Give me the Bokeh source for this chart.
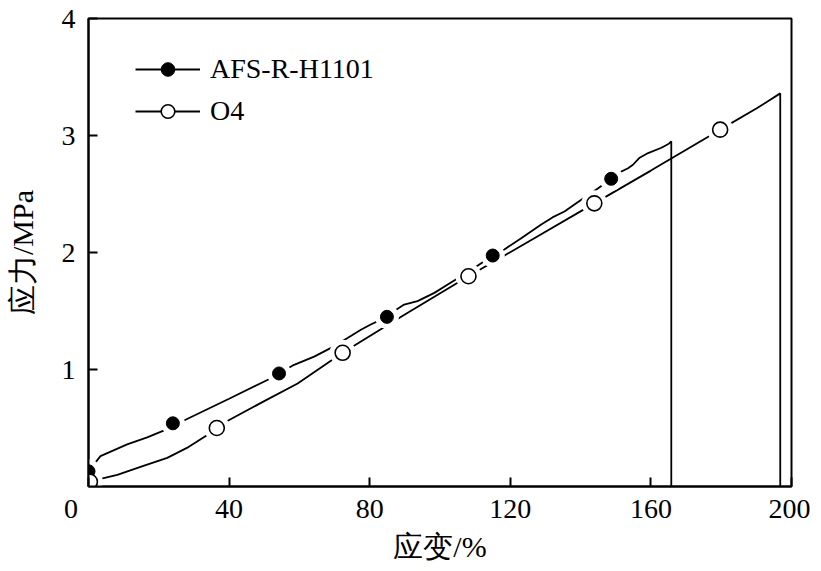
from bokeh.plotting import figure
from bokeh.models import Range1d, Legend, LegendItem, FixedTicker
from bokeh.embed import file_html
from bokeh.resources import INLINE

# ---- data ----
afs_x = [0, 3.4, 11, 16.7, 22.4, 24.0, 27.6, 40, 50.9, 54.2, 58.5, 64.2, 69, 73.7, 77.5, 80.3,
         84.9, 87, 89.8, 93.6, 98.4, 102.2, 106, 109.8, 112.6, 115, 118.3, 123, 128.8, 132, 135.4,
         140.2, 145, 148.7, 150.1, 153.5, 154.9, 156.8, 159.2, 163, 165.1, 165.8, 165.8]
afs_y = [0.13, 0.26, 0.36, 0.42, 0.49, 0.54, 0.57, 0.75, 0.91, 0.966, 1.04, 1.11, 1.185, 1.27, 1.34, 1.385,
         1.45, 1.50, 1.555, 1.584, 1.655, 1.726, 1.797, 1.869, 1.926, 1.974, 2.026, 2.12, 2.24, 2.30, 2.35,
         2.45, 2.55, 2.63, 2.67, 2.72, 2.75, 2.81, 2.85, 2.895, 2.93, 2.95, 0.0]
afs_mx = [0, 24.0, 54.2, 84.9, 115, 148.7]
afs_my = [0.13, 0.54, 0.966, 1.45, 1.974, 2.63]

o4_x = [0.4, 3.4, 8.2, 15, 22.4, 28, 33.8, 36.5, 39.5, 50, 59.5, 72.3, 90, 108.1, 125, 143.9,
        160, 179.7, 190, 196.8, 196.8]
o4_y = [0.04, 0.066, 0.10, 0.17, 0.245, 0.33, 0.44, 0.50, 0.56, 0.73, 0.88, 1.143, 1.47, 1.797, 2.09, 2.42,
        2.70, 3.05, 3.23, 3.36, 0.0]
o4_mx = [0.4, 36.5, 72.3, 108.1, 143.9, 179.7]
o4_my = [0.04, 0.50, 1.143, 1.797, 2.42, 3.05]

x_ticks = [0, 40, 80, 120, 160, 200]
y_ticks = [1, 2, 3, 4]
names = ["AFS-R-H1101", "O4"]
x_title = "应变/%"
y_title = "应力/MPa"

SERIF = "Liberation Serif"

p = figure(width=810, height=566, output_backend="svg", toolbar_location=None,
           x_range=Range1d(0, 200), y_range=Range1d(0, 4),
           min_border_left=88, min_border_right=19, min_border_top=18, min_border_bottom=80)
p.grid.visible = False
p.outline_line_color = "black"
p.outline_line_width = 2
p.background_fill_color = "white"

for ax in (p.xaxis, p.yaxis):
    ax.axis_line_width = 2
    ax.major_tick_line_width = 2
    ax.major_tick_in = 9
    ax.major_tick_out = 0
    ax.minor_tick_line_color = None
    ax.major_label_text_font = SERIF
    ax.major_label_text_font_size = "28px"
    ax.major_label_text_color = "black"
    ax.axis_label_text_font = SERIF
    ax.axis_label_text_font_size = "30px"
    ax.axis_label_text_font_style = "normal"
    ax.axis_label_text_color = "black"

p.xaxis.ticker = FixedTicker(ticks=x_ticks)
p.yaxis.ticker = FixedTicker(ticks=y_ticks)
# corner "0" sits left of the origin, as in the reference
p.xaxis.major_label_overrides = {0: "0" + "\u00a0" * 5}
p.xaxis.major_label_standoff = 6
p.yaxis.major_label_standoff = 13
p.xaxis.axis_label = x_title
p.yaxis.axis_label = y_title
p.xaxis.axis_label_standoff = 3
p.yaxis.axis_label_standoff = 20

# curves
l1 = p.line(afs_x, afs_y, line_color="black", line_width=1.8)
l2 = p.line(o4_x, o4_y, line_color="black", line_width=1.8)
# white gaps around markers
p.scatter(afs_mx, afs_my, size=24, fill_color="white", line_color=None)
p.scatter(o4_mx, o4_my, size=26, fill_color="white", line_color=None)
m1 = p.scatter(afs_mx, afs_my, size=13, fill_color="black", line_color="black")
m2 = p.scatter(o4_mx, o4_my, size=15, fill_color="white", line_color="black", line_width=1.6)

legend = Legend(items=[LegendItem(label=names[0], renderers=[l1, m1]),
                       LegendItem(label=names[1], renderers=[l2, m2])],
                location=(47, 358), padding=0, margin=0, spacing=8,
                glyph_width=65, glyph_height=34, label_height=34, label_standoff=10,
                label_text_font=SERIF, label_text_font_size="28px", label_text_color="black",
                background_fill_alpha=0, border_line_color=None)
p.add_layout(legend)

open("out.html", "w").write(file_html(p, INLINE))
